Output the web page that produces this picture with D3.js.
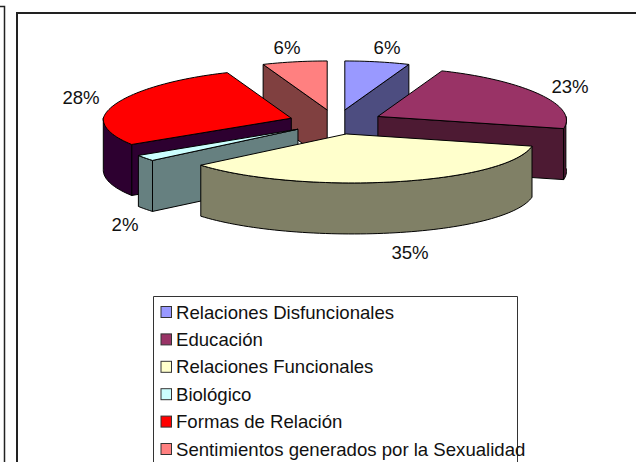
<!DOCTYPE html>
<html><head><meta charset="utf-8">
<script src="https://cdn.jsdelivr.net/npm/d3@7/dist/d3.min.js"></script>
<style>html,body{margin:0;padding:0;background:#fff;overflow:hidden}svg{display:block}text{font-family:"Liberation Sans",Arial,sans-serif;fill:#111}</style>
</head><body><svg id="c" width="636" height="462"></svg>
<script>
const categories = ["Relaciones Disfuncionales","Educación","Relaciones Funcionales","Biológico","Formas de Relación","Sentimientos generados por la Sexualidad"];
const values = [6,23,35,2,28,6];
const topColors = ["#9999ff","#993366","#ffffcc","#ccffff","#ff0000","#ff8080"];
const sideColors = ["#4d4d80","#4d1a33","#808066","#668080","#2d0030","#804040"];
const paintOrder = [5,0,1,4,3,2];
const labelPos = [[387,47],[570,86],[410,252],[125,224],[81,97],[287,47]];

const svg = d3.select("#c");
const W=636,H=462;
const cx=336, cy=122, depth=51, explode=0.25;
const line=d3.line();

// outer panel edges
svg.append("path").attr("d","M0,6.5H4.5V462").attr("fill","none").attr("stroke","#222").attr("stroke-width",1.5);
svg.append("path").attr("d","M17,462V13H636").attr("fill","none").attr("stroke","#222").attr("stroke-width",2);

const arcs=d3.pie().value(d=>d).sort(null).startAngle(0).endAngle(2*Math.PI)(values);
const sx=d3.scaleLinear().domain([-1,1]).range([-188,188]);
const sy=d3.scaleLinear().domain([-1,1]).range([-49,49]);
function proj(r,a,ox,oy){
  const u=r*Math.sin(a), v=-r*Math.cos(a);
  const k=1+(v<0?0.08:0.048)*v;
  return [ox+sx(u)*k+6*Math.max(v,0), oy+sy(v)];
}
function arcPts(a0,a1,ox,oy,dy){
  const n=Math.max(2,Math.ceil(Math.abs(a1-a0)/0.03));
  return d3.range(n+1).map(i=>{const p=proj(1,a0+(a1-a0)*i/n,ox,oy);return [p[0],p[1]+dy];});
}
const pieG=svg.append("g");
paintOrder.forEach(i=>{
  const d=arcs[i], mid=(d.startAngle+d.endAngle)/2;
  const ox=cx+sx(explode*Math.sin(mid)), oy=cy+sy(-explode*Math.cos(mid));
  const g=pieG.append("g").attr("stroke","#000").attr("stroke-width",1).attr("stroke-linejoin","round");
  const face=(a)=>{
    const p=proj(1,a,ox,oy);
    g.append("path").attr("fill",sideColors[i]).attr("d",line([[ox,oy],p,[p[0],p[1]+depth],[ox,oy+depth]])+"Z");
  };
  if(Math.sin(d.startAngle)<-1e-6) face(d.startAngle);
  if(Math.sin(d.endAngle)>1e-6) face(d.endAngle);
  const a0=Math.max(d.startAngle,Math.PI/2), a1=Math.min(d.endAngle,3*Math.PI/2);
  if(a1>a0){
    const rim=arcPts(a0,a1,ox,oy,0).concat(arcPts(a1,a0,ox,oy,depth));
    g.append("path").attr("fill",sideColors[i]).attr("d",line(rim)+"Z");
  }
  const top=[[ox,oy]].concat(arcPts(d.startAngle,d.endAngle,ox,oy,0));
  g.append("path").attr("fill",topColors[i]).attr("d",line(top)+"Z");
});

const fs=18.6;
svg.append("g").selectAll("text").data(values).join("text")
  .attr("x",(d,i)=>labelPos[i][0]).attr("y",(d,i)=>labelPos[i][1]+6.5)
  .attr("text-anchor","middle").attr("font-size",fs).text(d=>d+"%");

// legend
const lx=153.5, ly=296.5, lr=517.5;
svg.append("path").attr("d",`M${lx},462V${ly}H${lr}V462`).attr("fill","none").attr("stroke","#333").attr("stroke-width",1);
const rowY=d3.scalePoint().domain(d3.range(categories.length)).range([312,449]);
const leg=svg.append("g").selectAll("g").data(categories).join("g").attr("transform",(d,i)=>`translate(0,${rowY(i)})`);
leg.append("rect").attr("x",161).attr("y",-5.5).attr("width",10.5).attr("height",11).attr("fill",(d,i)=>topColors[i]).attr("stroke","#333");
leg.append("text").attr("x",176).attr("y",6.5).attr("font-size",fs).text(d=>d);
</script></body></html>
